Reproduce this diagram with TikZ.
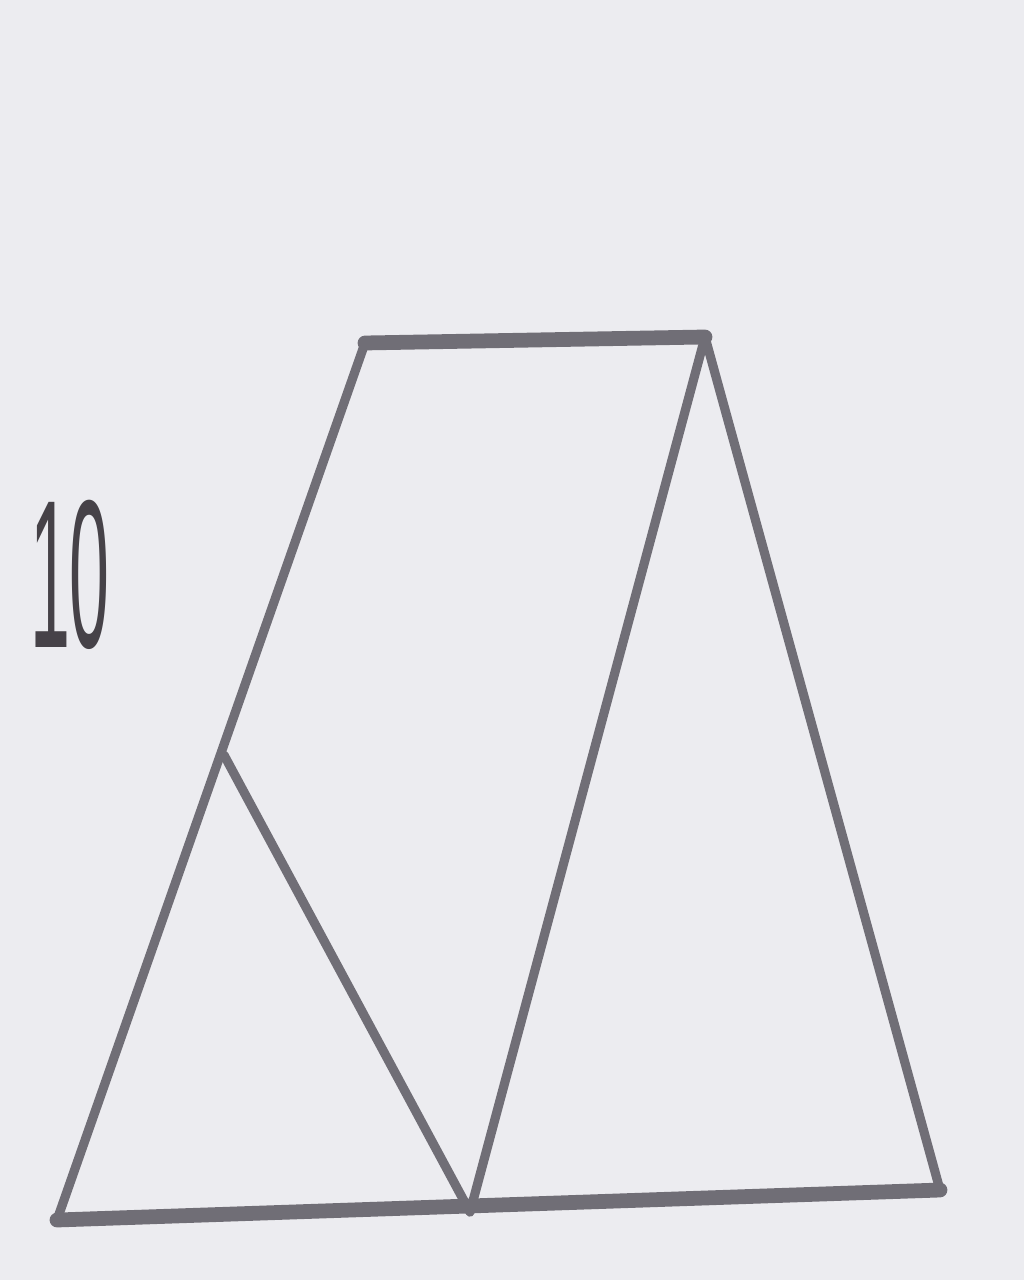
\documentclass[tikz,border=0pt]{standalone}
\usepackage{fontspec}
\setmainfont{Liberation Sans}
\definecolor{bgc}{RGB}{236,236,240}
\definecolor{lnc}{RGB}{112,110,118}
\definecolor{txc}{RGB}{70,66,72}
\begin{document}
\begin{tikzpicture}[x=0.01cm,y=-0.01cm,
  thickline/.style={draw=lnc,line width=4.2pt,line cap=round},
  thinline/.style={draw=lnc,line width=2.6pt,line cap=round,line join=round},
  label/.style={text=txc,font=\fontsize{60}{60}\selectfont,xscale=0.34,inner sep=0pt}]
\fill[bgc] (0,0) rectangle (1024,1280);
\useasboundingbox (0,0) rectangle (1024,1280);
\coordinate (TL) at (365,343);
\coordinate (TR) at (705,337);
\coordinate (BR) at (940,1190);
\coordinate (BL) at (57,1220);
\coordinate (M) at (224,755);
\coordinate (B) at (470,1212);
\draw[thinline] (BL) -- (TL);
\draw[thinline] (TR) -- (BR);
\draw[thinline] (M) -- (B);
\draw[thinline] (TR) -- (B);
\draw[thickline] (TL) -- (TR);
\draw[thickline] (BL) -- (BR);
\node[label] (ten) at (70,575) {10};
\end{tikzpicture}
\end{document}
